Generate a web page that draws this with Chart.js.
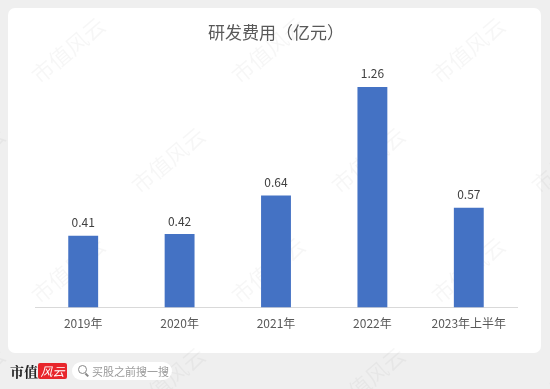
<!DOCTYPE html>
<html>
<head>
<meta charset="utf-8">
<script src="https://cdn.jsdelivr.net/npm/chart.js@4"></script>
<style>
  body { margin: 0; background: #efefef; width: 550px; height: 389px; position: relative; overflow: hidden; font-family: "Noto Sans CJK SC", sans-serif; }
  #card { position: absolute; left: 8px; top: 8px; width: 533px; height: 345px; background: #fff; border-radius: 7px; }
  #chartWrap { position: absolute; left: 0; top: 0; width: 550px; height: 389px; }
  #logo { position: absolute; left: 10px; top: 362px; font-size: 14px; font-weight: bold; color: #222; font-family: "Noto Serif CJK SC", "Noto Sans CJK SC", serif; line-height: 18px; }
  #logoRed { position: absolute; left: 38px; top: 363px; width: 29px; height: 16px; background: #e8262c; border-radius: 2px; color: #fff; font-size: 12px; font-style: italic; line-height: 16px; text-align: center; }
  #search { position: absolute; left: 72px; top: 362px; width: 100px; height: 18px; background: #fff; border-radius: 9px; font-size: 11px; color: #999; line-height: 18px; }
  #search span { position: absolute; left: 20px; top: 0; white-space: nowrap; }
  #search i { position: absolute; left: 6px; top: 3px; width: 7px; height: 7px; border: 1.5px solid #888; border-radius: 50%; }
  #search b { position: absolute; left: 13px; top: 12px; width: 4px; height: 1.5px; background: #888; transform: rotate(45deg); }
</style>
</head>
<body>
<div id="card"></div>
<div id="chartWrap"><canvas id="rdChart" width="550" height="389"></canvas></div>
<div id="logo">市值</div>
<div id="logoRed">风云</div>
<div id="search"><i></i><b></b><span>买股之前搜一搜</span></div>
<script>
const categories = ['2019年', '2020年', '2021年', '2022年', '2023年上半年'];
const rdExpense = [0.41, 0.42, 0.64, 1.26, 0.57];
const chartTitle = '研发费用（亿元）';

// faint diagonal watermark like the original
const watermark = {
    id: 'watermark',
    beforeDraw(chart) {
        const c = chart.ctx;
        c.save();
        c.font = '22px "Noto Sans CJK SC"';
        c.fillStyle = 'rgba(0,0,0,0.035)';
        for (let row = 0; row < 4; row++) {
            for (let col = 0; col < 4; col++) {
                const x = 40 + col * 200 - (row % 2) * 100;
                const y = 85 + row * 110;
                c.save();
                c.translate(x, y);
                c.rotate(-0.7);
                c.fillText('市值风云', 0, 0);
                c.restore();
            }
        }
        c.restore();
    }
};

const valueLabels = {
    id: 'valueLabels',
    afterDatasetsDraw(chart) {
        const c = chart.ctx;
        const meta = chart.getDatasetMeta(0);
        c.save();
        c.font = '12px "Noto Sans CJK SC"';
        c.fillStyle = '#404040';
        c.textAlign = 'center';
        c.textBaseline = 'middle';
        meta.data.forEach((bar, i) => {
            c.fillText(rdExpense[i].toFixed(2), bar.x, bar.y - 13);
        });
        c.restore();
    }
};

const ctx = document.getElementById('rdChart').getContext('2d');
new Chart(ctx, {
    type: 'bar',
    data: {
        labels: categories,
        datasets: [{
            data: rdExpense,
            backgroundColor: '#4472C4',
            borderWidth: 0,
            categoryPercentage: 1,
            barPercentage: 0.31
        }]
    },
    options: {
        responsive: false,
        animation: false,
        layout: { padding: { left: 35, right: 33, top: 0, bottom: 49 } },
        scales: {
            x: {
                grid: { display: false, drawTicks: false },
                border: { display: true, color: '#d9d9d9', width: 1 },
                ticks: { color: '#595959', font: { size: 12, family: '"Noto Sans CJK SC"' }, padding: 9, maxRotation: 0 }
            },
            y: { display: false, min: 0, max: 1.4 }
        },
        plugins: {
            legend: { display: false },
            tooltip: { enabled: false },
            title: {
                display: true,
                text: chartTitle,
                color: '#595959',
                font: { size: 17, weight: 'normal', family: '"Noto Sans CJK SC"' },
                padding: { top: 22, bottom: 20 }
            }
        }
    },
    plugins: [watermark, valueLabels]
});
</script>
</body>
</html>
